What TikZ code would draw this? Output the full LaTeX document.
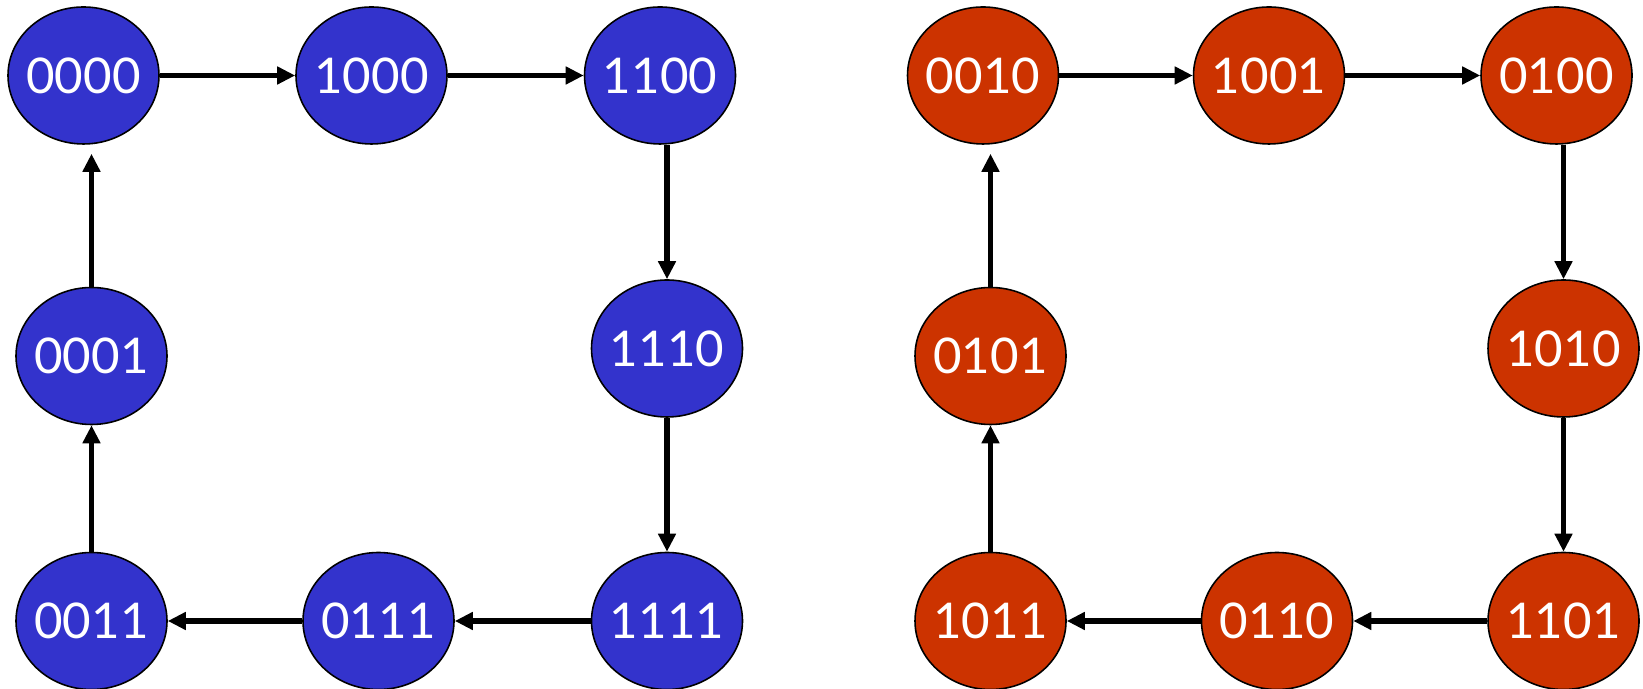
\documentclass[tikz,border=0pt]{standalone}
\usepackage{fontspec}
\setmainfont{Lato}
\usepackage{tikz}
\usetikzlibrary{arrows.meta,shapes.geometric}
\definecolor{stateblue}{RGB}{51,51,204}
\definecolor{statered}{RGB}{204,51,0}

\begin{document}
\begin{tikzpicture}[
  state/.style={ellipse, draw=black, line width=0.9pt, minimum width=3.02cm,
    minimum height=2.74cm, inner ysep=0pt, inner xsep=-0.08cm, text=white,
    font=\fontsize{28}{30}\selectfont},
  bstate/.style={state, fill=stateblue},
  rstate/.style={state, fill=statered},
  flow/.style={line width=3.2pt, -{Triangle[length=0.36cm,width=0.34cm]}}]
\useasboundingbox (0,0) rectangle (32.86,13.78);
% left ring
\node[bstate] (B0) at (1.67,12.27) {0000};
\node[bstate] (B1) at (7.43,12.27) {1000};
\node[bstate] (B2) at (13.20,12.27) {1100};
\node[bstate] (B3) at (13.34,6.81) {1110};
\node[bstate] (B4) at (13.34,1.36) {1111};
\node[bstate] (B5) at (7.57,1.36) {0111};
\node[bstate] (B6) at (1.83,1.36) {0011};
\node[bstate] (B7) at (1.83,6.66) {0001};
% right ring
\node[rstate] (R0) at (19.66,12.27) {0010};
\node[rstate] (R1) at (25.38,12.27) {1001};
\node[rstate] (R2) at (31.13,12.27) {0100};
\node[rstate] (R3) at (31.27,6.81) {1010};
\node[rstate] (R4) at (31.27,1.36) {1101};
\node[rstate] (R5) at (25.54,1.36) {0110};
\node[rstate] (R6) at (19.81,1.36) {1011};
\node[rstate] (R7) at (19.81,6.66) {0101};
\path[flow]
(B0) edge (B1)
(B1) edge (B2)
(B2.south -| B3) edge (B3)
(B3) edge (B4)
(B4) edge (B5)
(B5) edge (B6)
(B6) edge (B7)
(B7) edge[shorten >=0.18cm] (B0.south -| B7);
\path[flow]
(R0) edge (R1)
(R1) edge (R2)
(R2.south -| R3) edge (R3)
(R3) edge (R4)
(R4) edge (R5)
(R5) edge (R6)
(R6) edge (R7)
(R7) edge[shorten >=0.18cm] (R0.south -| R7);
\end{tikzpicture}
\end{document}
